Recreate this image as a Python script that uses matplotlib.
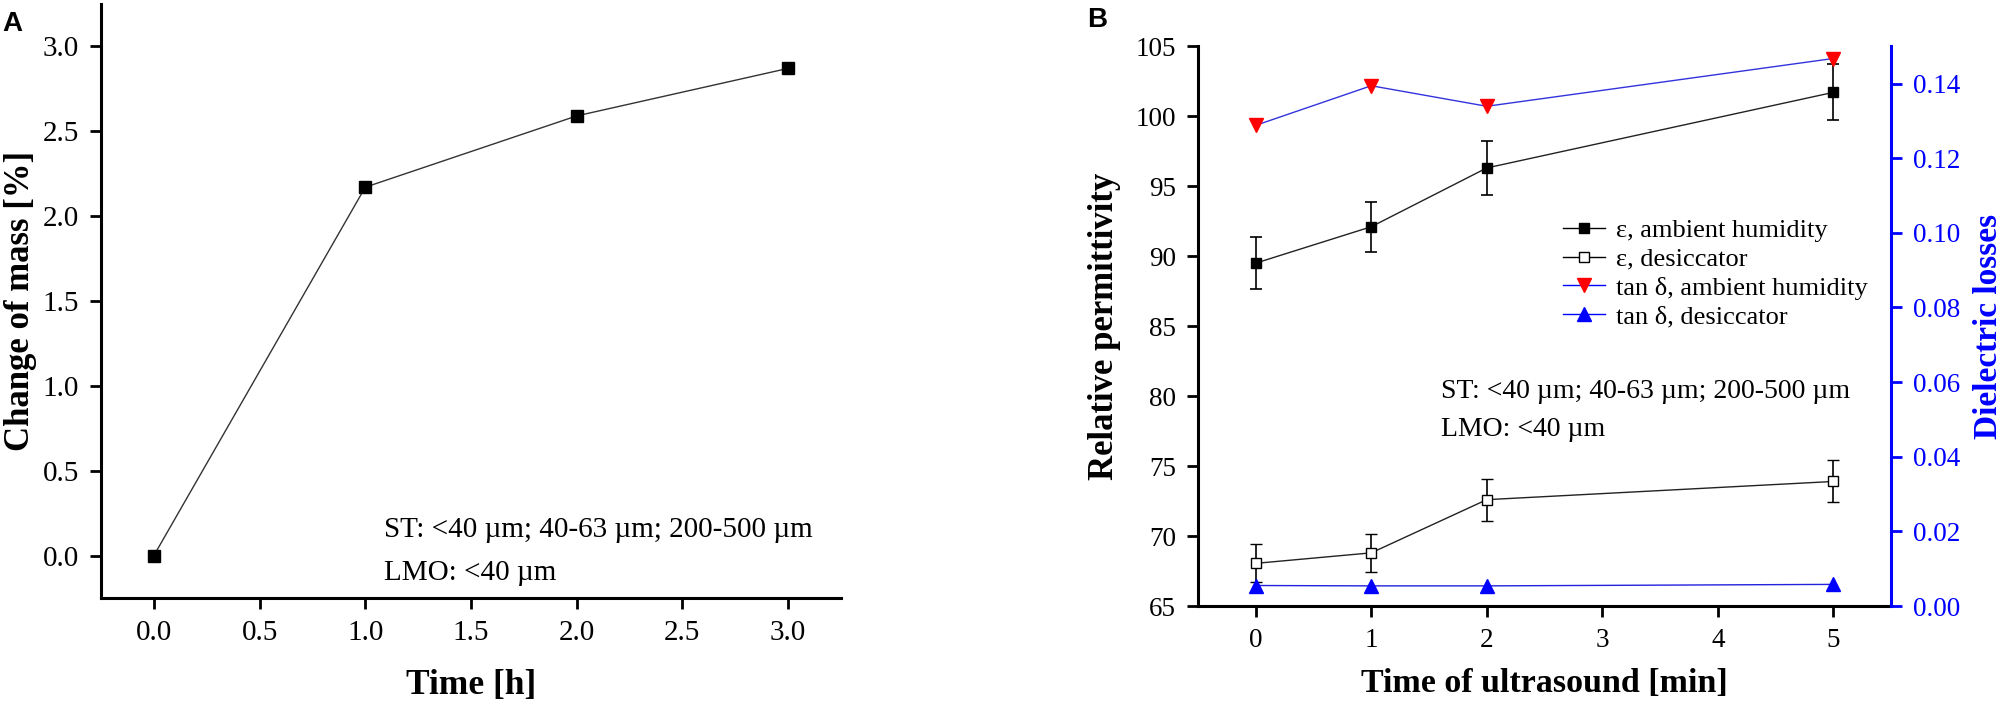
import matplotlib
matplotlib.use("Agg")
import matplotlib.pyplot as plt
from matplotlib.lines import Line2D

plt.rcParams['font.family'] = ['Liberation Serif', 'DejaVu Serif']

# Panel A data
tiempo_h = [0.0, 1.0, 2.0, 3.0]
cambio_masa = [0.0, 2.17, 2.59, 2.87]

# Panel B data
tiempo_us = [0, 1, 2, 5]
eps_amb = [89.5, 92.1, 96.3, 101.7]
eps_amb_err = [1.85, 1.8, 1.95, 2.0]
eps_des = [68.05, 68.8, 72.6, 73.9]
eps_des_err = [1.35, 1.35, 1.5, 1.5]
tan_amb = [0.1288, 0.1394, 0.1339, 0.1467]
tan_des = [0.0055, 0.0054, 0.0054, 0.0058]

texto_st = "ST: <40 \u00b5m; 40-63 \u00b5m; 200-500 \u00b5m"
texto_lmo = "LMO: <40 \u00b5m"

fig = plt.figure(figsize=(20, 7.15), dpi=100)
lw_spine = 2.2

# ---------------- Panel A ----------------
axA = fig.add_axes([0.0505, 0.1636, 0.37, 0.831])
axA.plot(tiempo_h, cambio_masa, color='#333333', lw=1.0, marker='s', ms=8.5,
         mfc='black', mec='black')
axA.set_xlim(-0.25, 3.25)
axA.set_ylim(-0.25, 3.25)
axA.set_xticks([0.0, 0.5, 1.0, 1.5, 2.0, 2.5, 3.0])
axA.set_yticks([0.0, 0.5, 1.0, 1.5, 2.0, 2.5, 3.0])
axA.set_xticklabels([f"{v:.1f}" for v in axA.get_xticks()])
axA.set_yticklabels([f"{v:.1f}" for v in axA.get_yticks()])
for s in ['top', 'right']:
    axA.spines[s].set_visible(False)
for s in ['left', 'bottom']:
    axA.spines[s].set_linewidth(lw_spine)
axA.tick_params(direction='out', length=8, width=2, labelsize=21, pad=8)
axA.set_xlabel("Time [h]", fontsize=25.5, fontweight='bold')
axA.set_ylabel("Change of mass [%]", fontsize=25, fontweight='bold')
axA.xaxis.set_label_coords(0.5, -0.12)
axA.yaxis.set_label_coords(-0.087, 0.5)
axA.text(0.382, 0.114, texto_st, transform=axA.transAxes, fontsize=21, va='center')
axA.text(0.382, 0.042, texto_lmo, transform=axA.transAxes, fontsize=21, va='center')
fig.text(0.001, 0.985, "A", fontsize=20, fontweight='bold', family='Liberation Sans',
         va='top', ha='left')

# ---------------- Panel B ----------------
axB = fig.add_axes([0.599, 0.1524, 0.3465, 0.783])
axB.errorbar(tiempo_us, eps_amb, yerr=eps_amb_err, color='#222222', lw=1.0,
             marker='s', ms=7.5, mfc='black', mec='black', capsize=4,
             elinewidth=1.2, capthick=1.2, ecolor='black')
axB.errorbar(tiempo_us, eps_des, yerr=eps_des_err, color='#222222', lw=1.0,
             marker='s', ms=7.5, mfc='white', mec='black', mew=1.0, capsize=4,
             elinewidth=1.2, capthick=1.2, ecolor='black')
axB.set_xlim(-0.5, 5.5)
axB.set_ylim(65, 105)
axB.set_xticks([0, 1, 2, 3, 4, 5])
axB.set_yticks(range(65, 106, 5))
axB.spines['top'].set_visible(False)
axB.spines['right'].set_visible(False)
for s in ['left', 'bottom']:
    axB.spines[s].set_linewidth(lw_spine)
axB.tick_params(direction='out', length=8, width=2, labelsize=19.5, pad=8)
axB.set_xlabel("Time of ultrasound [min]", fontsize=24.5, fontweight='bold')
axB.set_ylabel("Relative permittivity", fontsize=25, fontweight='bold')
axB.xaxis.set_label_coords(0.5, -0.11)
axB.yaxis.set_label_coords(-0.111, 0.5)

axR = axB.twinx()
axR.plot(tiempo_us, tan_amb, color='#3333dd', lw=1.0, marker='v', ms=10,
         mfc='red', mec='red')
axR.plot(tiempo_us, tan_des, color='#2222dd', lw=1.0, marker='^', ms=10,
         mfc='blue', mec='blue')
axR.set_ylim(0, 0.15)
axR.set_yticks([0.0, 0.02, 0.04, 0.06, 0.08, 0.10, 0.12, 0.14])
axR.set_yticklabels([f"{v:.2f}" for v in axR.get_yticks()])
for s in ['top', 'left', 'bottom']:
    axR.spines[s].set_visible(False)
axR.spines['right'].set_color('blue')
axR.spines['right'].set_linewidth(lw_spine)
axR.tick_params(axis='y', direction='out', length=8, width=2, colors='blue',
                labelsize=19.5, pad=8)
axR.set_ylabel("Dielectric losses", fontsize=24, fontweight='bold', color='blue')
axR.yaxis.set_label_coords(1.118, 0.5)

axB.text(0.351, 0.384, texto_st, transform=axB.transAxes, fontsize=20, va='center')
axB.text(0.351, 0.315, texto_lmo, transform=axB.transAxes, fontsize=20, va='center')

handles = [
    Line2D([], [], color='black', lw=1.0, marker='s', ms=7.5, mfc='black', mec='black'),
    Line2D([], [], color='black', lw=1.0, marker='s', ms=7.5, mfc='white', mec='black'),
    Line2D([], [], color='blue', lw=1.0, marker='v', ms=10, mfc='red', mec='red'),
    Line2D([], [], color='blue', lw=1.0, marker='^', ms=10, mfc='blue', mec='blue'),
]
labels = ["\u03b5, ambient humidity", "\u03b5, desiccator",
          "tan \u03b4, ambient humidity", "tan \u03b4, desiccator"]
axR.legend(handles, labels, loc='upper left', bbox_to_anchor=(0.527, 0.692),
           frameon=False, fontsize=19, borderpad=0, borderaxespad=0,
           handlelength=1.6, handletextpad=0.4, labelspacing=0.2)

fig.text(0.5435, 0.99, "B", fontsize=20, fontweight='bold', family='Liberation Sans',
         va='top', ha='left')

fig.savefig("out.png", dpi=100)
